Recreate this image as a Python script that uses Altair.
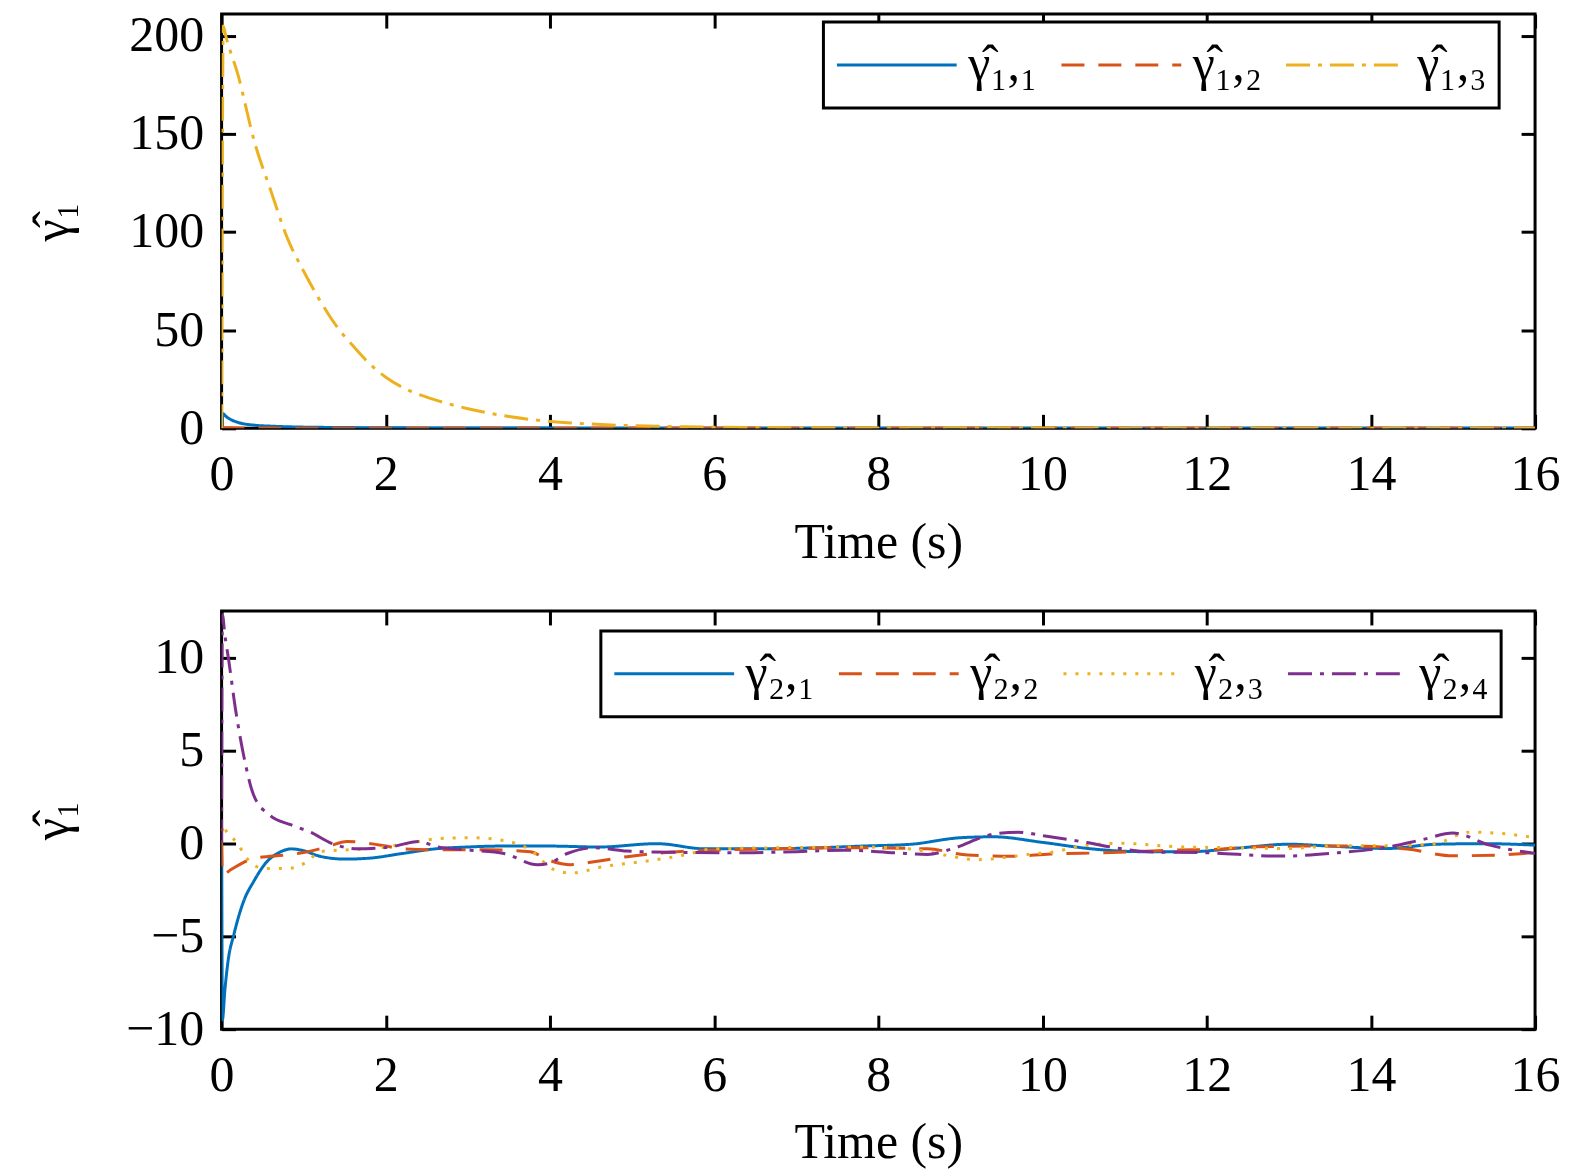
import altair as alt
import pandas as pd

# ---------------- data ----------------
# top panel
T1 = [0, 0.02, 0.05, 0.2, 0.4, 0.6, 0.8, 1.0, 1.2, 1.4, 1.6, 1.8, 2.0, 2.3, 2.6, 3.0, 3.5,
      4.0, 4.5, 5.0, 5.5, 6.0, 7.0, 8.0, 10.0, 12.0, 14.0, 16.0]
G11 = [0, 7.4, 6.2, 3.0, 1.6, 1.1, 0.8, 0.6, 0.5, 0.42, 0.36, 0.3, 0.26, 0.22, 0.19, 0.15, 0.12,
       0.1, 0.08, 0.07, 0.06, 0.05, 0.04, 0.03, 0.03, 0.02, 0.02, 0.02]
G12 = [0, 0.3, 0.25, 0.2, 0.15, 0.1, 0.08, 0.06, 0.05, 0.04, 0.03, 0.03, 0.02, 0.02, 0.02, 0.01, 0.01,
       0.01, 0.01, 0.01, 0.01, 0.0, 0.0, 0.0, 0.0, 0.0, 0.0, 0.0]
G13 = [0, 205, 200, 180, 146, 121, 97, 80, 65, 52, 42, 33, 26, 19, 14.5, 10, 6,
       3.5, 2.2, 1.3, 0.9, 0.6, 0.3, 0.15, 0.1, 0.08, 0.07, 0.06]

# bottom panel
T21 = [0, 0.01, 0.04, 0.08, 0.15, 0.27, 0.39, 0.55, 0.7, 0.85, 1.0, 1.2, 1.5, 1.8, 2.2, 2.6, 3.0, 3.4,
       4.0, 4.6, 5.3, 5.9, 6.5, 7.2, 7.8, 8.4, 9.0, 9.4, 10.0, 10.6, 11.2, 11.8, 12.4, 13.0,
       13.5, 14.2, 14.8, 15.4, 16.0]
G21 = [0, -9.5, -7.9, -6.3, -4.9, -3.1, -2.06, -1.0, -0.5, -0.3, -0.4, -0.7, -0.85, -0.8, -0.55, -0.3, -0.2, -0.15,
       -0.15, -0.2, -0.02, -0.3, -0.3, -0.25, -0.15, -0.05, 0.3, 0.35, 0.05, -0.3, -0.45, -0.45, -0.25, -0.05,
       -0.15, -0.28, -0.05, -0.02, -0.1]

T22 = [0, 0.01, 0.12, 0.39, 0.8, 1.0, 1.28, 1.53, 1.94, 2.22, 2.63, 3.24, 3.76, 3.97, 4.25, 4.6,
       4.94, 5.55, 6.16, 6.8, 7.59, 8.6, 9.09, 9.62, 10.1, 10.75, 11.59, 12.2, 12.6, 13.2, 13.8, 14.44,
       15.0, 15.57, 16.0]
G22 = [0, -1.7, -1.4, -0.82, -0.62, -0.5, -0.2, 0.1, -0.1, -0.3, -0.35, -0.35, -0.45, -0.88, -1.15, -0.95,
       -0.72, -0.45, -0.35, -0.3, -0.24, -0.3, -0.63, -0.7, -0.58, -0.51, -0.37, -0.31, -0.19, -0.15, -0.15, -0.31,
       -0.67, -0.63, -0.49]

T23 = [0, 0.02, 0.06, 0.18, 0.31, 0.51, 0.8, 1.04, 1.2, 1.49, 1.81, 2.22, 2.63, 3.03, 3.44, 3.76,
       4.05, 4.25, 4.66, 5.27, 5.67, 5.96, 6.6, 7.18, 7.8, 8.4, 8.8, 9.2, 9.62, 9.92, 10.06, 10.5,
       10.94, 11.67, 12.4, 13.0, 13.6, 14.23, 14.76, 15.2, 15.66, 16.0]
G23 = [0, 1.0, 0.62, 0.08, -0.82, -1.36, -1.36, -1.0, -0.45, -0.36, -0.29, -0.05, 0.25, 0.3, 0.15, -0.36,
       -1.42, -1.6, -1.25, -0.9, -0.6, -0.31, -0.25, -0.22, -0.2, -0.31, -0.63, -0.88, -0.72, -0.55, -0.51, -0.13,
       0.0, -0.19, -0.24, -0.28, -0.13, -0.13, -0.04, 0.6, 0.5, 0.3]

T24 = [0, 0.01, 0.04, 0.085, 0.17, 0.27, 0.39, 0.59, 0.84, 1.08, 1.34, 1.65, 2.05, 2.4, 2.63, 3.03, 3.44,
       3.85, 3.97, 4.21, 4.54, 4.94, 5.55, 6.37, 7.0, 7.59, 8.2, 8.6, 8.89, 9.41, 9.7, 10.02, 10.54,
       10.82, 11.3, 12.0, 12.9, 13.6, 14.23, 14.63, 15.0, 15.45, 15.94, 16.0]
G24 = [0, 12.3, 11.2, 9.9, 7.2, 4.7, 2.6, 1.5, 1.0, 0.6, 0.0, -0.3, -0.2, 0.1, -0.2, -0.37, -0.55,
       -1.15, -1.1, -0.55, -0.24, -0.42, -0.49, -0.51, -0.45, -0.37, -0.51, -0.6, -0.31, 0.5, 0.6, 0.4, 0.04,
       -0.19, -0.46, -0.51, -0.69, -0.51, -0.19, 0.2, 0.55, -0.1, -0.51, -0.55]

NAMES1 = ["γ̂₁,₁", "γ̂₁,₂", "γ̂₁,₃"]
NAMES2 = ["γ̂₂,₁", "γ̂₂,₂", "γ̂₂,₃", "γ̂₂,₄"]
X_TICKS = [0, 2, 4, 6, 8, 10, 12, 14, 16]
Y1_TICKS = [0, 50, 100, 150, 200]
Y2_TICKS = [-10, -5, 0, 5, 10]
Y_TITLE = "γ̂₁"
X_TITLE = "Time (s)"

BLUE, RED, YELLOW, PURPLE = "#0072BD", "#D95319", "#EDB120", "#7E2F8E"
SOLID, DASHED, DOTTED, DASHDOT = [1, 0], [23, 14], [3, 9], [24, 8, 4, 8]

FONT = "Liberation Serif"
FS = 50
TICK = 14
W = 1316


def long_df(pairs, names):
    rows = []
    for k, ((ts, vs), name) in enumerate(zip(pairs, names)):
        for t, v in zip(ts, vs):
            rows.append({"t": t, "v": v, "s": name, "k": k})
    return pd.DataFrame(rows)


df1 = long_df([(T1, G11), (T1, G12), (T1, G13)], NAMES1)
df2 = long_df([(T21, G21), (T22, G22), (T23, G23), (T24, G24)], NAMES2)


def panel(df, names, colors, dashes, ydomain, yticks, height, leg_x, leg_y):
    xscale = alt.Scale(domain=[0, 16], nice=False, zero=False)
    yscale = alt.Scale(domain=ydomain, nice=False, zero=False)
    legend = alt.Legend(
        title=None, orient="none", legendX=leg_x, legendY=leg_y, direction="horizontal",
        symbolType="stroke", symbolSize=14400, symbolStrokeWidth=3,
        labelFont=FONT, labelFontSize=FS, labelColor="black", labelOffset=10,
        columnPadding=22, padding=12, clipHeight=62, strokeColor="black",
        fillColor="white", labelLimit=300,
    )
    base = alt.Chart(df)
    line = base.mark_line(strokeWidth=3, clip=True, interpolate="monotone").encode(
        x=alt.X("t:Q", scale=xscale, axis=alt.Axis(
            orient="bottom", values=X_TICKS, ticks=False, domain=False, grid=False,
            labelPadding=21, labelFont=FONT, labelFontSize=FS, labelColor="black",
            labelFlush=False, title=X_TITLE, titleFont=FONT, titleFontSize=FS,
            titleFontWeight="normal", titleColor="black", titlePadding=18)),
        y=alt.Y("v:Q", scale=yscale, axis=alt.Axis(
            orient="left", values=yticks, ticks=False, domain=False, grid=False,
            labelPadding=18, labelFont=FONT, labelFontSize=FS, labelColor="black",
            labelFlush=False, minExtent=118, maxExtent=118,
            title=Y_TITLE, titleFont=FONT, titleFontSize=FS, titleFontWeight="normal",
            titleColor="black", titlePadding=26)),
        color=alt.Color("s:N", scale=alt.Scale(domain=names, range=colors), legend=legend),
        strokeDash=alt.StrokeDash("s:N", scale=alt.Scale(domain=names, range=dashes), legend=legend),
        order=alt.Order("k:Q"),
    )

    def tick_axis(orient, vals):
        return alt.Axis(orient=orient, values=vals, offset=-TICK, tickSize=TICK, tickWidth=3,
                        tickColor="black", labels=False, domain=False, grid=False, title=None,
                        minExtent=0, maxExtent=0)

    layers = [line]
    for o in ("bottom", "top"):
        layers.append(base.mark_line(opacity=0).encode(
            x=alt.X("t:Q", scale=xscale, axis=tick_axis(o, X_TICKS)),
            y=alt.Y("v:Q", scale=yscale, axis=None)))
    for o in ("left", "right"):
        layers.append(base.mark_line(opacity=0).encode(
            x=alt.X("t:Q", scale=xscale, axis=None),
            y=alt.Y("v:Q", scale=yscale, axis=tick_axis(o, yticks))))
    return alt.layer(*layers).resolve_axis(x="independent", y="independent").properties(
        width=W, height=height)


top = panel(df1, NAMES1, [BLUE, RED, YELLOW], [SOLID, DASHED, DASHDOT], [0, 211], Y1_TICKS,
            415, 603, 8)
bottom = panel(df2, NAMES2, [BLUE, RED, YELLOW, PURPLE], [SOLID, DASHED, DOTTED, DASHDOT],
               [-10, 12.5], Y2_TICKS, 419, 380, 20)

chart = alt.vconcat(top, bottom, spacing=39).resolve_scale(
    color="independent", strokeDash="independent"
).properties(
    padding={"left": 18, "top": 0, "right": 5, "bottom": 5}
).configure_view(
    stroke="black", strokeWidth=3
).configure_legend(
    strokeWidth=3
)

chart.save("out.html", embed_options={"renderer": "svg", "actions": False})
